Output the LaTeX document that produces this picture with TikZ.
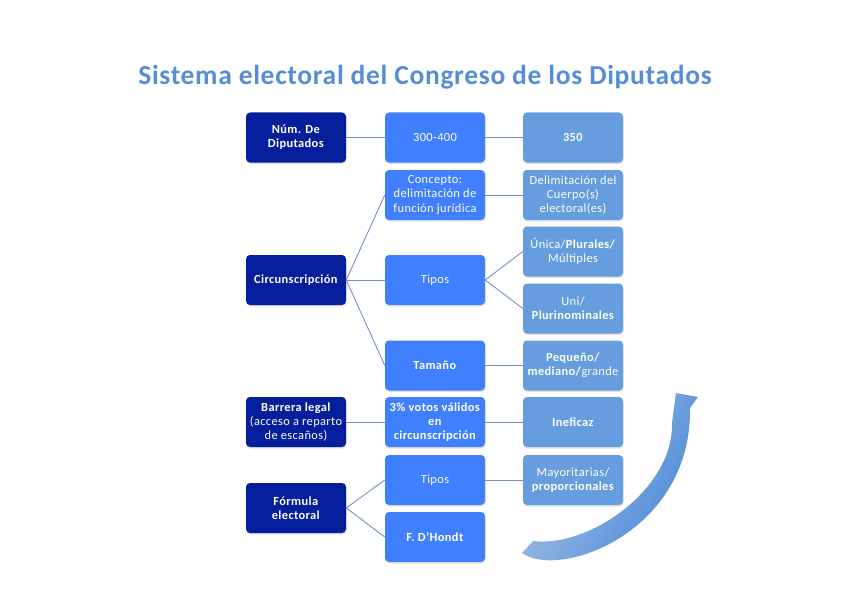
\documentclass[tikz,border=0pt]{standalone}
\usepackage{fontspec}
\setmainfont{Carlito}
\usetikzlibrary{shadows}
\definecolor{navy}{RGB}{5,30,155}
\definecolor{midblue}{RGB}{64,128,255}
\definecolor{lightblue}{RGB}{102,157,222}
\definecolor{titleblue}{RGB}{85,142,213}
\definecolor{linkblue}{RGB}{112,146,198}
\definecolor{arrowlight}{RGB}{170,196,232}
\definecolor{arrowdark}{RGB}{70,134,214}
\tikzset{
  box/.style={draw=none, rounded corners=4pt, minimum width=100pt, minimum height=50pt,
    align=center, text=white, inner sep=1pt,
    font=\fontsize{12.4}{14.2}\selectfont\addfontfeatures{LetterSpace=3},
    drop shadow={shadow xshift=0.6pt, shadow yshift=-1.6pt, opacity=0.22}},
  boxa/.style={box, fill=navy},
  boxb/.style={box, fill=midblue},
  boxc/.style={box, fill=lightblue},
  link/.style={draw=linkblue, line width=0.9pt}
}
\begin{document}
\begin{tikzpicture}[x=1pt, y=-1pt]
\useasboundingbox (0,0) rectangle (848,599);
\node[text=titleblue, font=\fontsize{27.5}{32}\selectfont\bfseries\addfontfeatures{LetterSpace=2.5}] (title) at (425,77) {Sistema electoral del Congreso de los Diputados};

% column 1
\node[boxa] (num) at (296,137.5) {\textbf{Núm. De}\\\textbf{Diputados}};
\node[boxa] (circ) at (296,280) {\textbf{Circunscripción}};
\node[boxa] (barr) at (296,422) {\textbf{Barrera legal}\\(acceso a reparto\\de escaños)};
\node[boxa] (form) at (296,508) {\textbf{Fórmula}\\\textbf{electoral}};

% column 2
\node[boxb] (rng) at (435,137.5) {300-400};
\node[boxb] (conc) at (435,195) {Concepto:\\delimitación de\\función jurídica};
\node[boxb] (tip) at (435,280) {Tipos};
\node[boxb] (tam) at (435,365.5) {\textbf{Tamaño}};
\node[boxb] (pct) at (435,422) {\textbf{3\% votos válidos}\\\textbf{en}\\\textbf{circunscripción}};
\node[boxb] (tipb) at (435,480) {Tipos};
\node[boxb] (dh) at (435,537) {\textbf{F. D’Hondt}};

% column 3
\node[boxc] (n350) at (573,137.5) {\textbf{350}};
\node[boxc] (delim) at (573,195) {Delimitación del\\Cuerpo(s)\\electoral(es)};
\node[boxc] (unica) at (573,251.5) {Única/\textbf{Plurales/}\\Múltiples};
\node[boxc] (uni) at (573,308.5) {Uni/\\\textbf{Plurinominales}};
\node[boxc] (peq) at (573,365.5) {\textbf{Pequeño/}\\\textbf{mediano/}grande};
\node[boxc] (inef) at (573,422) {\textbf{Ineficaz}};
\node[boxc] (may) at (573,480) {Mayoritarias/\\\textbf{proporcionales}};

% connectors
\draw[link] (num.east) -- (rng.west);
\draw[link] (rng.east) -- (n350.west);
\draw[link] (circ.east) -- (conc.west);
\draw[link] (circ.east) -- (tip.west);
\draw[link] (circ.east) -- (tam.west);
\draw[link] (conc.east) -- (delim.west);
\draw[link] (tip.east) -- (unica.west);
\draw[link] (tip.east) -- (uni.west);
\draw[link] (tam.east) -- (peq.west);
\draw[link] (barr.east) -- (pct.west);
\draw[link] (pct.east) -- (inef.west);
\draw[link] (form.east) -- (tipb.west);
\draw[link] (form.east) -- (dh.west);
\draw[link] (tipb.east) -- (may.west);

% curved arrow
\coordinate (tailtop) at (533,541);
\coordinate (tailbot) at (522,553);
\coordinate (outtop) at (690,408);
\coordinate (headr) at (698,397);
\coordinate (tip0) at (676,393);
\coordinate (headl) at (672,423);
\shade[left color=arrowlight, right color=arrowdark, shading angle=60]
  (tailtop) -- (tailbot) .. controls (560,580) and (692,532) .. (outtop)
  -- (headr) -- (tip0) -- (headl)
  .. controls (674,488) and (590,548) .. (tailtop) -- cycle;
\end{tikzpicture}
\end{document}
